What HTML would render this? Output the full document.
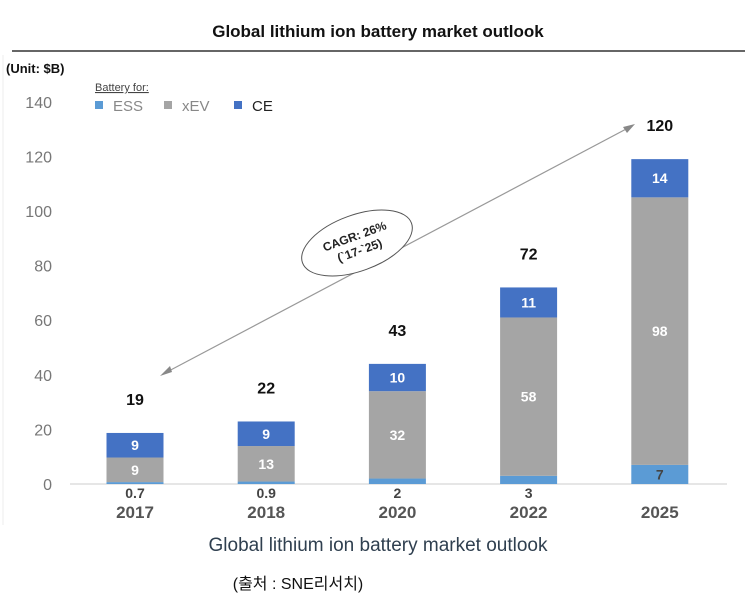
<!DOCTYPE html>
<html><head><meta charset="utf-8"><style>
body{margin:0;background:#fff;width:749px;height:608px;overflow:hidden;font-family:"Liberation Sans","Noto Sans CJK KR",sans-serif}
</style></head><body>
<svg id="c" width="749" height="608" xmlns="http://www.w3.org/2000/svg">
<line x1="3" y1="55" x2="3" y2="525" stroke="#eee"/>
<text x="378" y="37" text-anchor="middle" font-size="17" font-weight="bold" fill="#111">Global lithium ion battery market outlook</text>
<line x1="12" y1="51" x2="745" y2="51" stroke="#333" stroke-width="1.5"/>
<text x="6" y="73" font-size="13" font-weight="bold" fill="#111">(Unit: $B)</text>
<text x="95" y="91" font-size="11" fill="#444" text-decoration="underline">Battery for:</text>
<g>
<rect x="95" y="101" width="8" height="8" fill="#5b9bd5"/>
<text x="113" y="111" font-size="15" fill="#888">ESS</text>
<rect x="164" y="101" width="8" height="8" fill="#a5a5a5"/>
<text x="182" y="111" font-size="15" fill="#888">xEV</text>
<rect x="234" y="101" width="8" height="8" fill="#4472c4"/>
<text x="252" y="111" font-size="15" fill="#222">CE</text>
</g>
<g id="axis"></g>
<g id="bars"></g>
<line x1="165" y1="373" x2="630" y2="127" stroke="#999" stroke-width="1.2"/>
<polygon points="160,376 170,366 172,372" fill="#888"/>
<polygon points="635,124 623,127 627,133" fill="#888"/>
<ellipse cx="357" cy="243" rx="58" ry="28" transform="rotate(-20 357 243)" fill="#fff" stroke="#555"/>
<g transform="rotate(-20 357 243)">
<text x="357" y="240" text-anchor="middle" font-size="12" font-weight="bold" fill="#222">CAGR: 26%</text>
<text x="357" y="255" text-anchor="middle" font-size="12" font-weight="bold" fill="#222">(`17-`25)</text>
</g>
<text x="378" y="551" text-anchor="middle" font-size="19" fill="#2f3f4f">Global lithium ion battery market outlook</text>
<text x="298" y="589" text-anchor="middle" font-size="16" fill="#111">(출처 : SNE리서치)</text>
</svg>
<script>
const categories=["2017","2018","2020","2022","2025"];
const ess=[0.7,0.9,2,3,7];
const xev=[9,13,32,58,98];
const ce=[9,9,10,11,14];
const totals=["19","22","43","72","120"];
const essLabels=["0.7","0.9","2","3","7"];
const yTicks=[0,20,40,60,80,100,120,140];
const NS="http://www.w3.org/2000/svg";
const y0=484,pxPerUnit=2.73,x0=135,step=131.2,bw=57;
const y=v=>y0-v*pxPerUnit;
const xc=i=>x0+i*step;
function mk(tag,attrs,parent,txt){const e=document.createElementNS(NS,tag);for(const k in attrs)e.setAttribute(k,attrs[k]);if(txt!==undefined)e.textContent=txt;parent.appendChild(e);return e;}
const ax=document.getElementById('axis'),bars=document.getElementById('bars');
yTicks.forEach(t=>{const e=mk('text',{x:52,y:y(t)+6,'text-anchor':'end','font-size':16,fill:'#777'},ax,String(t));

});
const bl=mk('line',{x1:70,y1:y0,x2:727,y2:y0,stroke:'#ccc'},ax);


const colors=['#5b9bd5','#a5a5a5','#4472c4'];
const series=[ess,xev,ce];
categories.forEach((c,i)=>{
 let base=0;
 series.forEach((s,k)=>{
  const r=mk('rect',{x:xc(i)-bw/2,y:y(base+s[i]),width:bw,height:s[i]*pxPerUnit,fill:colors[k]},bars);
  
  
  if(k>0){const t=mk('text',{x:xc(i),y:y(base+s[i]/2)+5,'text-anchor':'middle','font-size':14,'font-weight':'bold',fill:'#fff'},bars,String(s[i]));
   
   }
  else if(s[i]>=5){const t=mk('text',{x:xc(i),y:y(s[i]/2)+5,'text-anchor':'middle','font-size':14,'font-weight':'bold',fill:'#444'},bars,essLabels[i]);
   
   }
  else {const t=mk('text',{x:xc(i),y:y0+14,'text-anchor':'middle','font-size':14,'font-weight':'bold',fill:'#444'},bars,essLabels[i]);
   
   }
  base+=s[i];
 });
 const tt=mk('text',{x:xc(i),y:y(base)-28,'text-anchor':'middle','font-size':16,'font-weight':'bold',fill:'#111'},bars,totals[i]);
 
 
 const xl=mk('text',{x:xc(i),y:518,'text-anchor':'middle','font-size':17,'font-weight':'bold',fill:'#555'},bars,c);
 
 
});
</script>
</body></html>
